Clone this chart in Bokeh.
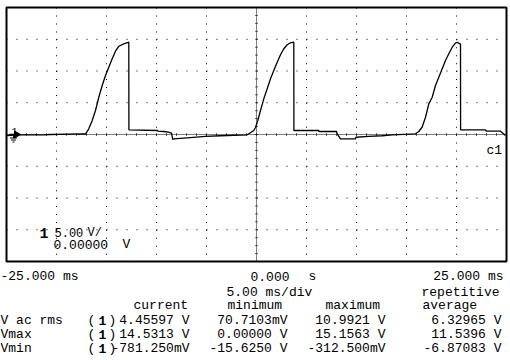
import numpy as np
from bokeh.plotting import figure
from bokeh.models import Range1d
from bokeh.core.properties import value
from bokeh.embed import file_html
from bokeh.resources import INLINE

# ---------------- data ----------------
t_ms = [-24.95, -23.93, -21.3, -20.6, -17.27,
        -17.1, -16.77, -16.43, -16.1, -15.77, -15.43, -15.1, -14.77, -14.43, -14.1, -13.77, -13.27, -12.77,
        -12.76, -9.9, -9.85, -9.3, -8.8, -8.5, -8.37, -8.27, -6.93, -5.1, -3.6, -0.93,
        -0.77, -0.27, -0.1, 0.13, 0.4, 0.73, 1.07, 1.4, 1.73, 2.07, 2.4, 2.73, 3.07, 3.4, 3.73,
        3.74, 6.23, 6.25, 8.0, 8.07, 8.4, 9.9, 9.95, 11.2, 12.57, 13.57, 15.9,
        16.23, 16.57, 16.9, 17.23, 17.57, 17.9, 18.23, 18.57, 18.9, 19.23, 19.57, 19.9, 20.07, 20.33, 20.4,
        20.41, 22.9, 22.95, 24.4, 24.9]
v_volts = [-0.16, -0.05, -0.05, 0.0, 0.11,
           0.08, 0.90, 2.20, 3.78, 5.87, 7.72, 9.29, 10.6, 11.92, 13.12, 13.9, 14.28, 14.53,
           0.74, 0.63, 0.52, 0.47, 0.36, 0.2, -0.79, -0.68, -0.52, -0.31, -0.2, -0.05,
           0.11, 0.63, 1.1, 2.2, 3.78, 5.62, 7.2, 8.77, 10.08, 11.39, 12.55, 13.5, 14.13, 14.44, 14.53,
           0.63, 0.63, 0.47, 0.47, 0.11, -0.68, -0.68, -0.43, -0.31, -0.2, -0.05, 0.11,
           0.47, 1.18, 2.72, 4.83, 5.87, 7.72, 9.02, 10.35, 11.65, 12.71, 13.75, 14.38, 14.53, 14.28, 14.28,
           0.74, 0.74, 0.55, 0.52, -0.16]

time_ticks = [-20, -15, -10, -5, 0, 5, 10, 15, 20]
volt_ticks = [-15, -10, -5, 0, 5, 10, 15]

time_left_label = "-25.000 ms"
time_center_label = "0.000"
time_center_unit = "s"
time_right_label = "25.000 ms"
timebase_label = "5.00 ms/div"
mode_label = "repetitive"
col_headers = ["current", "minimum", "maximum", "average"]
row_labels = ["V ac rms", "Vmax", "Vmin"]
current_vals = ["4.45597 V", "14.5313 V", "-781.250mV"]
minimum_vals = ["70.7103mV", "0.00000 V", "-15.6250 V"]
maximum_vals = ["10.9921 V", "15.1563 V", "-312.500mV"]
average_vals = ["6.32965 V", "11.5396 V", "-6.87083 V"]
channel_id = "1"
channel_scale = "5.00"
channel_scale_unit = "V/"
channel_offset = "0.00000"
channel_offset_unit = "V"
channel_name = "c1"

# ---------------- layout geometry (pixels) ----------------
W, H = 510, 358
BOX_L, BOX_R, BOX_T, BOX_B = 6, 506, 7, 261
T_MIN, T_MAX, V_MIN, V_MAX = -25.0, 25.0, -20.0, 20.0
SX = (BOX_R - BOX_L) / (T_MAX - T_MIN)   # px per ms
SY = (BOX_B - BOX_T) / (V_MAX - V_MIN)   # px per volt


def X(px):
    return T_MIN + (px - BOX_L) / SX


def Y(py):
    return V_MAX - (py - BOX_T) / SY


p = figure(width=W, height=H, output_backend="svg", toolbar_location=None,
           x_range=Range1d(X(0), X(W)), y_range=Range1d(Y(H), Y(0)),
           x_axis_type=None, y_axis_type=None, min_border=0,
           min_border_left=0, min_border_right=0, min_border_top=0, min_border_bottom=0,
           outline_line_color=None, background_fill_color="white",
           border_fill_color="white")
p.grid.visible = False

FONT = "Liberation Mono"
FS = "13px"

# ---------------- graticule ----------------
vx0, vy0, vx1, vy1 = [], [], [], []
for t in time_ticks:
    if t == 0:
        continue
    for k in range(8):
        vx0.append(t); vx1.append(t)
        vy0.append(V_MAX - 5 * k); vy1.append(V_MAX - 5 * (k + 1))
p.segment(vx0, vy0, vx1, vy1, line_color="black", line_width=1, line_dash="1 7")

hx0, hy0, hx1, hy1 = [], [], [], []
for v in volt_ticks:
    if v == 0:
        continue
    for k in range(10):
        hx0.append(T_MIN + 5 * k); hx1.append(T_MIN + 5 * (k + 1))
        hy0.append(v); hy1.append(v)
p.segment(hx0, hy0, hx1, hy1, line_color="black", line_width=1, line_dash="1 9")

# centre axes (dense dotted with small ticks)
p.segment([T_MIN], [0], [T_MAX], [0], line_color="black", line_width=1, line_dash="1 1")
p.segment([0], [V_MIN], [0], [V_MAX], line_color="black", line_width=1, line_dash="1 1")
tk = np.arange(T_MIN + 1, T_MAX, 1.0)
dv = 1.5 / SY
p.segment(tk, -dv, tk, dv, line_color="black", line_width=1, line_alpha=0.6)
vk = np.arange(V_MIN + 1.25, V_MAX, 1.25)
dt = 1.5 / SX
p.segment(-dt, vk, dt, vk, line_color="black", line_width=1, line_alpha=0.6)

# box
p.quad(left=[T_MIN], right=[T_MAX], bottom=[V_MIN], top=[V_MAX],
       fill_color=None, line_color="black", line_width=2)

# ---------------- trace ----------------
p.line(t_ms, v_volts, line_color="black", line_width=1.3)

# ground reference marker
p.scatter([X(16)], [0], marker="triangle", size=7, angle=-np.pi / 2,
          fill_color="black", line_color="black")
p.segment([X(9)], [0], [X(16)], [0], line_color="black", line_width=1.5)
p.segment([X(13)], [0], [X(13)], [Y(137.5)], line_color="black", line_width=1)
p.segment([X(9.5), X(10.5), X(12)], [Y(137.5), Y(139.5), Y(141.5)],
          [X(16.5), X(15.5), X(14)], [Y(137.5), Y(139.5), Y(141.5)],
          line_color="black", line_width=1)
p.text([X(11)], [Y(131)], text=[channel_id], text_font=value(FONT), text_font_size="10px",
       text_baseline="alphabetic", text_color="black")

p.text([X(486)], [Y(149.5)], text=[channel_name], text_font=value(FONT), text_font_size=FS,
       text_baseline="alphabetic", text_color="black")

# channel settings in the grid
p.text([X(39)], [Y(232)], text=[channel_id], text_font=value(FONT), text_font_size="15px",
       text_font_style="bold", text_baseline="alphabetic", text_color="black")
p.text([X(54), X(87)], [Y(232), Y(232)], text=[channel_scale, channel_scale_unit],
       text_font=value(FONT), text_font_size="12px", text_baseline="alphabetic", text_color="black")
p.text([X(53), X(122)], [Y(244), Y(244)], text=[channel_offset, channel_offset_unit],
       text_font=value(FONT), text_font_size=FS, text_baseline="alphabetic", text_color="black")

# ---------------- text below the box ----------------
def txt(px, py, s, align="left", style="normal"):
    p.text([X(px)], [Y(py)], text=[s], text_font=value(FONT), text_font_size=FS,
           text_align=align, text_baseline="alphabetic", text_color="black",
           text_font_style=style)


txt(0, 275.5, time_left_label)
txt(250, 275.5, time_center_label)
txt(308, 275.5, time_center_unit)
txt(503, 275.5, time_right_label, "right")
txt(226, 291.5, timebase_label)
txt(421, 291.5, mode_label)

head_x = [133, 227, 325, 422]
for hx, hs in zip(head_x, col_headers):
    txt(hx, 304.5, hs)

row_base = [319.5, 333.5, 347.5]
for rb, rl in zip(row_base, row_labels):
    txt(0, rb, rl)
    txt(87, rb, "(")
    txt(98, rb, channel_id, style="bold")
    txt(108, rb, ")")

for colx, vals in zip([189, 287, 385, 501], [current_vals, minimum_vals, maximum_vals, average_vals]):
    p.text([X(colx)] * 3, [Y(b) for b in row_base], text=vals, text_font=value(FONT),
           text_font_size=FS, text_align="right", text_baseline="alphabetic", text_color="black")

open("out.html", "w").write(file_html(p, INLINE))
